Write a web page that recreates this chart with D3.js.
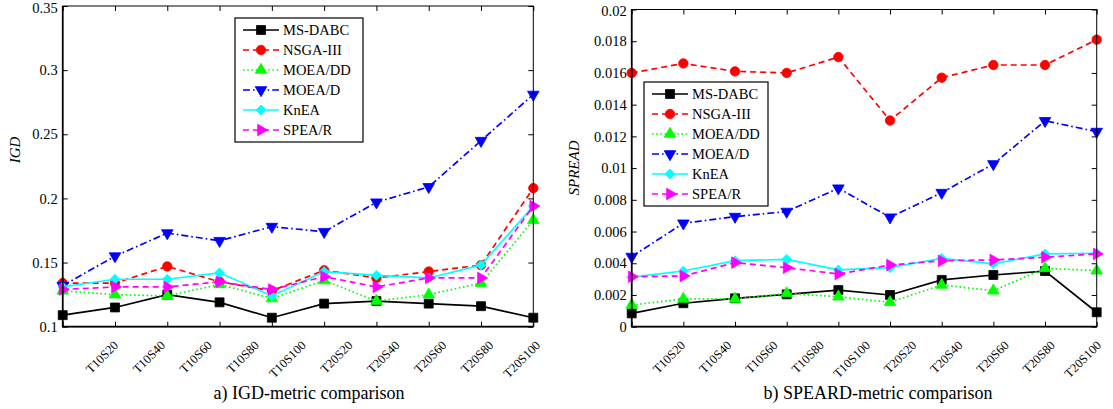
<!DOCTYPE html>
<html>
<head>
<meta charset="utf-8">
<script src="https://cdn.jsdelivr.net/npm/d3@7"></script>
<style>
 body { margin: 0; background: #fff; }
 svg { display: block; }
 svg text { font-family: "Liberation Serif", "Times New Roman", serif; fill: #000; }
</style>
</head>
<body>
<svg width="1113" height="409"></svg>
<script>
// categories (problem instances)
var categories = ["T10S20", "T10S40", "T10S60", "T10S80", "T10S100",
                  "T20S20", "T20S40", "T20S60", "T20S80", "T20S100"];
var seriesNames = ["MS-DABC", "NSGA-III", "MOEA/DD", "MOEA/D", "KnEA", "SPEA/R"];

// IGD values
var igdMSDABC = [0.109, 0.115, 0.125, 0.119, 0.107, 0.118, 0.120, 0.118, 0.116, 0.107];
var igdNSGA3  = [0.134, 0.134, 0.147, 0.135, 0.128, 0.144, 0.138, 0.143, 0.148, 0.208];
var igdMOEADD = [0.128, 0.125, 0.124, 0.133, 0.122, 0.136, 0.120, 0.125, 0.134, 0.183];
var igdMOEAD  = [0.132, 0.155, 0.173, 0.167, 0.178, 0.174, 0.197, 0.209, 0.245, 0.281];
var igdKnEA   = [0.131, 0.137, 0.137, 0.142, 0.124, 0.143, 0.140, 0.138, 0.148, 0.194];
var igdSPEAR  = [0.129, 0.131, 0.131, 0.135, 0.129, 0.139, 0.131, 0.138, 0.138, 0.194];

// SPREAD values
var spMSDABC = [0.00084, 0.00148, 0.00179, 0.00204, 0.00231, 0.00200, 0.00295, 0.00326, 0.00351, 0.00091];
var spNSGA3  = [0.0160, 0.0166, 0.0161, 0.0160, 0.0170, 0.0130, 0.0157, 0.0165, 0.0165, 0.0181];
var spMOEADD = [0.00137, 0.00175, 0.00175, 0.00210, 0.00189, 0.00154, 0.00263, 0.00227, 0.00368, 0.00353];
var spMOEAD  = [0.00442, 0.00652, 0.00694, 0.00726, 0.00873, 0.00690, 0.00845, 0.01026, 0.01298, 0.01230];
var spKnEA   = [0.00312, 0.00351, 0.00416, 0.00425, 0.00358, 0.00372, 0.00431, 0.00396, 0.00459, 0.00463];
var spSPEAR  = [0.00315, 0.00320, 0.00404, 0.00372, 0.00332, 0.00389, 0.00416, 0.00421, 0.00438, 0.00459];

// tick values
var igdTicks = [0.1, 0.15, 0.2, 0.25, 0.3, 0.35];
var spTicks = [0, 0.002, 0.004, 0.006, 0.008, 0.01, 0.012, 0.014, 0.016, 0.018, 0.02];

// look of each series (matlab style)
var styles = {
 "MS-DABC":  { color: "#000000", dash: null,        marker: "square" },
 "NSGA-III": { color: "#ff0000", dash: "6,4",       marker: "circle" },
 "MOEA/DD":  { color: "#00ff00", dash: "1.6,2.6",   marker: "triUp" },
 "MOEA/D":   { color: "#0000ff", dash: "7,3,1.6,3", marker: "triDown" },
 "KnEA":     { color: "#00ffff", dash: null,        marker: "diamond" },
 "SPEA/R":   { color: "#ff00ff", dash: "6,4",       marker: "triRight" }
};

var serif = "'Liberation Serif', 'Times New Roman', serif";
var svg = d3.select("svg");

function marker(sel, type, color) {
 var sym, rot = 0, size = 80;
 if (type == "square") { sym = d3.symbolSquare; size = 80; }
 if (type == "circle") { sym = d3.symbolCircle; size = 70; }
 if (type == "triUp") { sym = d3.symbolTriangle; size = 58; }
 if (type == "triDown") { sym = d3.symbolTriangle; size = 58; rot = 180; }
 if (type == "triRight") { sym = d3.symbolTriangle; size = 58; rot = 90; }
 if (type == "diamond") { sym = d3.symbolSquare; size = 48; rot = 45; }
 sel.append("path")
   .attr("d", d3.symbol().type(sym).size(size)())
   .attr("fill", color)
   .attr("stroke", color)
   .attr("stroke-width", 0.8)
   .attr("transform", "rotate(" + rot + ")");
}

function drawChart(cfg) {
 var g = svg.append("g");

 var x = d3.scalePoint().domain(categories).range([cfg.left, cfg.right]);
 var y = d3.scaleLinear().domain(cfg.domain).range([cfg.bottom, cfg.top]);
 // matlab put the rotated labels slightly off the ticks
 var xLab = d3.scalePoint().domain(categories).range(cfg.labRange);

 // ticks pointing inwards on all four sides
 g.append("g")
   .attr("transform", "translate(" + cfg.left + ",0)")
   .call(d3.axisLeft(y).tickValues(cfg.ticks).tickSize(-5).tickPadding(5)
     .tickFormat(function(d) { return String(+d.toFixed(4)); }))
   .call(function(a) {
     a.attr("font-family", null);
     a.select(".domain").remove();
     a.selectAll("text")
       .style("font-family", serif)
       .style("font-size", "14.5px")
       .attr("fill", "#000")
       .attr("dy", function(d, i) { return i == cfg.ticks.length - 1 ? "0.42em" : "0.32em"; });
   });
 g.append("g")
   .attr("transform", "translate(" + cfg.right + ",0)")
   .call(d3.axisRight(y).tickValues(cfg.ticks).tickSize(-5).tickFormat(""))
   .select(".domain").remove();
 g.append("g")
   .attr("transform", "translate(0," + cfg.bottom + ")")
   .call(d3.axisBottom(x).tickSize(-5).tickFormat(""))
   .select(".domain").remove();
 g.append("g")
   .attr("transform", "translate(0," + cfg.top + ")")
   .call(d3.axisTop(x).tickSize(-5).tickFormat(""))
   .select(".domain").remove();
 g.selectAll(".tick line").attr("stroke", "#000");

 // rotated category labels
 g.selectAll(".catlab")
   .data(categories)
   .enter().append("text")
   .attr("class", "catlab")
   .attr("transform", function(d) { return "translate(" + xLab(d) + "," + cfg.labY + ") rotate(-45)"; })
   .attr("text-anchor", "end")
   .style("font-size", "12.5px")
   .text(function(d) { return d; });

 // lines + markers
 var line = d3.line()
   .x(function(d, i) { return x(categories[i]); })
   .y(function(d) { return y(d); });

 seriesNames.forEach(function(name, k) {
   var st = styles[name];
   var vals = cfg.data[k];
   g.append("path")
     .datum(vals)
     .attr("d", line)
     .attr("fill", "none")
     .attr("stroke", st.color)
     .attr("stroke-width", 1.7)
     .attr("stroke-dasharray", st.dash);
   vals.forEach(function(v, i) {
     var m = g.append("g").attr("transform", "translate(" + x(categories[i]) + "," + y(v) + ")");
     marker(m, st.marker, st.color);
   });
 });

 // frame
 g.append("rect")
   .attr("x", cfg.left).attr("y", cfg.top)
   .attr("width", cfg.right - cfg.left).attr("height", cfg.bottom - cfg.top)
   .attr("fill", "none").attr("stroke", "#000").attr("stroke-width", 1);
 g.append("path")
   .attr("d", "M" + cfg.left + "," + cfg.top + "V" + cfg.bottom + "H" + cfg.right)
   .attr("fill", "none").attr("stroke", "#000").attr("stroke-width", 1.7);

 // y title
 g.append("text")
   .attr("transform", "translate(" + cfg.yTitleX + "," + cfg.yTitleY + ") rotate(-90)")
   .attr("text-anchor", "middle")
   .style("font-size", "15px")
   .style("font-style", "italic")
   .text(cfg.yTitle);

 // caption
 g.append("text")
   .attr("x", cfg.capX).attr("y", 399)
   .attr("text-anchor", "middle")
   .style("font-size", "18px")
   .text(cfg.caption);

 // legend
 var lg = g.append("g");
 lg.append("rect")
   .attr("x", cfg.legX).attr("y", cfg.legY)
   .attr("width", cfg.legW).attr("height", 124)
   .attr("fill", "#fff").attr("stroke", "#000").attr("stroke-width", 1.2);
 seriesNames.forEach(function(name, k) {
   var st = styles[name];
   var yy = cfg.legY + 12 + k * 20;
   lg.append("line")
     .attr("x1", cfg.legX + 8).attr("x2", cfg.legX + 44)
     .attr("y1", yy).attr("y2", yy)
     .attr("stroke", st.color).attr("stroke-width", 1.7)
     .attr("stroke-dasharray", st.dash);
   var m = lg.append("g").attr("transform", "translate(" + (cfg.legX + 26) + "," + yy + ")");
   marker(m, st.marker, st.color);
   lg.append("text")
     .attr("x", cfg.legX + 48).attr("y", yy + 5)
     .style("font-size", "14.5px")
     .text(name);
 });
}

drawChart({
 left: 62.7, right: 533.3, top: 6, bottom: 326.7,
 domain: [0.1, 0.35], ticks: igdTicks,
 labRange: [119, 541], labY: 346,
 data: [igdMSDABC, igdNSGA3, igdMOEADD, igdMOEAD, igdKnEA, igdSPEAR],
 yTitle: "IGD", yTitleX: 20, yTitleY: 150,
 caption: "a) IGD-metric comparison", capX: 309,
 legX: 235, legY: 18, legW: 128
});

drawChart({
 left: 631.7, right: 1096.7, top: 9.5, bottom: 326.7,
 domain: [0, 0.02], ticks: spTicks,
 labRange: [686, 1102], labY: 346,
 data: [spMSDABC, spNSGA3, spMOEADD, spMOEAD, spKnEA, spSPEAR],
 yTitle: "SPREAD", yTitleX: 579, yTitleY: 168,
 caption: "b) SPEARD-metric comparison", capX: 878,
 legX: 644, legY: 82, legW: 124
});
</script>
</body>
</html>
